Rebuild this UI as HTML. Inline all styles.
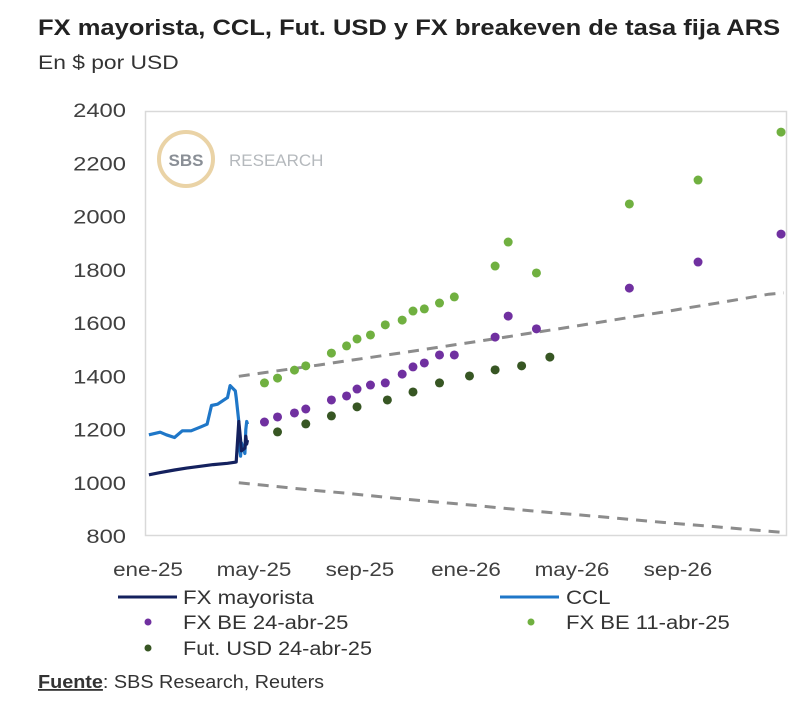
<!DOCTYPE html>
<html><head><meta charset="utf-8">
<style>
html,body{margin:0;padding:0;background:#fff;width:800px;height:718px;overflow:hidden;font-family:"Liberation Sans",sans-serif;}
</style></head>
<body>
<svg id="chart" width="800" height="718" xmlns="http://www.w3.org/2000/svg" font-family="Liberation Sans, sans-serif">
<text class="st" data-f="1.16" x="38" y="35" font-size="22" font-weight="bold" fill="#222">FX mayorista, CCL, Fut. USD y FX breakeven de tasa fija ARS</text>
<text class="st" data-f="1.2" x="38" y="69" font-size="19" fill="#333">En $ por USD</text>
<rect x="145.5" y="111.5" width="641" height="424" fill="none" stroke="#d9d9d9" stroke-width="1.5"/>
<g>
<circle cx="186" cy="159" r="27" fill="none" stroke="#ead3a6" stroke-width="4"/>
<text x="186" y="166" font-size="17" font-weight="bold" fill="#8a8f96" text-anchor="middle">SBS</text>
<text x="229" y="166" font-size="17" fill="#b5b9bd">RESEARCH</text>
</g>
<g id="yaxis"></g><g id="xaxis"></g><g id="series"></g>
<g font-size="19" fill="#333">
<line x1="118" y1="597" x2="177" y2="597" stroke="#14215e" stroke-width="3"/>
<text class="st" data-f="1.17" x="183" y="604">FX mayorista</text>
<line x1="500" y1="597" x2="559" y2="597" stroke="#1f77c8" stroke-width="3"/>
<text class="st" data-f="1.17" x="566" y="604">CCL</text>
<circle cx="148" cy="622" r="3.5" fill="#7030a0"/>
<text class="st" data-f="1.16" x="183" y="629">FX BE 24-abr-25</text>
<circle cx="531" cy="622" r="3.5" fill="#70b040"/>
<text class="st" data-f="1.16" x="566" y="629">FX BE 11-abr-25</text>
<circle cx="148" cy="648" r="3.5" fill="#375623"/>
<text class="st" data-f="1.14" x="183" y="655">Fut. USD 24-abr-25</text>
</g>
<text class="st" data-f="1.1" x="38" y="688" font-size="18" fill="#333"><tspan font-weight="bold" text-decoration="underline">Fuente</tspan>: SBS Research, Reuters</text>
</svg>
<script>
const yTicks=[800,1000,1200,1400,1600,1800,2000,2200,2400];
const xTickLabels=["ene-25","may-25","sep-25","ene-26","may-26","sep-26"];
const xTickDates=["2025-01-01","2025-05-01","2025-09-01","2026-01-01","2026-05-01","2026-09-01"];
const mayDates=["2025-01-02","2025-01-15","2025-02-01","2025-02-15","2025-03-01","2025-03-15","2025-04-01","2025-04-10","2025-04-11","2025-04-14","2025-04-15","2025-04-16","2025-04-17","2025-04-21","2025-04-22","2025-04-23","2025-04-24"];
const mayValues=[1030,1038,1048,1055,1062,1068,1073,1077,1078,1230,1195,1160,1120,1130,1175,1145,1160];
const cclDates=["2025-01-02","2025-01-15","2025-01-22","2025-02-01","2025-02-10","2025-02-20","2025-03-01","2025-03-08","2025-03-13","2025-03-20","2025-04-01","2025-04-04","2025-04-10","2025-04-11","2025-04-14","2025-04-15","2025-04-16","2025-04-17","2025-04-21","2025-04-22","2025-04-23","2025-04-24"];
const cclValues=[1180,1190,1180,1170,1195,1195,1210,1220,1290,1295,1320,1365,1345,1320,1230,1130,1100,1150,1110,1200,1230,1220];
const be11Dates=["2025-05-13","2025-05-28","2025-06-17","2025-06-30","2025-07-29","2025-08-16","2025-08-28","2025-09-13","2025-09-30","2025-10-19","2025-11-01","2025-11-14","2025-12-01","2025-12-18","2026-02-04","2026-02-19","2026-03-21","2026-07-06","2026-09-24","2026-12-28"];
const be11Values=[1375,1393,1423,1439,1487,1514,1540,1555,1593,1611,1645,1653,1675,1698,1814,1904,1788,2047,2137,2317];
const be24Dates=be11Dates;
const be24Values=[1228,1247,1262,1277,1311,1326,1352,1367,1375,1408,1435,1450,1480,1480,1547,1626,1578,1731,1829,1934];
const futDates=["2025-05-28","2025-06-30","2025-07-29","2025-08-28","2025-10-02","2025-11-01","2025-12-01","2026-01-05","2026-02-04","2026-03-04","2026-04-06"];
const futValues=[1191,1221,1251,1285,1311,1341,1375,1401,1424,1439,1472];
const bandDates=["2025-04-14","2025-05-14","2025-06-14","2025-07-14","2025-08-14","2025-09-14","2025-10-14","2025-11-14","2025-12-14","2026-01-14","2026-02-14","2026-03-14","2026-04-14","2026-05-14","2026-06-14","2026-07-14","2026-08-14","2026-09-14","2026-10-14","2026-11-14","2026-12-14","2026-12-31"];
const bandUpper=[1400,1414,1428,1442,1457,1471,1486,1501,1516,1531,1546,1562,1577,1593,1609,1625,1641,1658,1674,1691,1708,1713];
const bandLower=[1000,990,980,970,961,951,941,932,923,914,904,895,886,878,869,860,851,843,835,826,818,813];

const NS="http://www.w3.org/2000/svg";
function months(s){const p=s.split("-").map(Number);return (p[0]-2025)*12+(p[1]-1)+(p[2]-1)/30.4;}
function xS(s){return 148+months(s)*26.5;}
function yS(v){return 536-(v-800)*(426/1600);}
function mk(tag,attrs,parent){const e=document.createElementNS(NS,tag);for(const k in attrs)e.setAttribute(k,attrs[k]);parent.appendChild(e);return e;}
const ya=document.getElementById("yaxis"),xa=document.getElementById("xaxis"),sg=document.getElementById("series");
yTicks.forEach(v=>{const t=mk("text",{x:126,y:yS(v)+7,"font-size":19,fill:"#404040","text-anchor":"end","class":"st","data-f":"1.25"},ya);


t.textContent=v;});
xTickLabels.forEach((l,i)=>{const t=mk("text",{x:xS(xTickDates[i]),y:576,"font-size":19,fill:"#404040","text-anchor":"middle","class":"st","data-f":"1.18"},xa);


t.textContent=l;});
function line(d,v,attrs,name){const pts=d.map((s,i)=>xS(s).toFixed(1)+","+yS(v[i]).toFixed(1)).join(" ");
const p=mk("polyline",Object.assign({points:pts,fill:"none"},attrs),sg);

}
line(bandDates,bandUpper,{stroke:"#8c8c8c","stroke-width":3,"stroke-dasharray":"11 8"},"band-upper");
line(bandDates,bandLower,{stroke:"#8c8c8c","stroke-width":3,"stroke-dasharray":"11 8"},"band-lower");
line(cclDates,cclValues,{stroke:"#1f77c8","stroke-width":3.2,"stroke-linejoin":"round"},"ccl-line");
line(mayDates,mayValues,{stroke:"#14215e","stroke-width":3.2,"stroke-linejoin":"round"},"fx-mayorista-line");
function dots(d,v,color,name){d.forEach((s,i)=>{const c=mk("circle",{cx:xS(s),cy:yS(v[i]),r:4.5,fill:color},sg);

});}
dots(be11Dates,be11Values,"#70b040","fx-be-11-point");
dots(be24Dates,be24Values,"#7030a0","fx-be-24-point");
dots(futDates,futValues,"#375623","fut-usd-point");
document.querySelectorAll("text.st").forEach(t=>{const w=t.getComputedTextLength();const f=parseFloat(t.getAttribute("data-f"));
t.setAttribute("textLength",(w*f).toFixed(1));t.setAttribute("lengthAdjust","spacingAndGlyphs");});
</script>
</body></html>
